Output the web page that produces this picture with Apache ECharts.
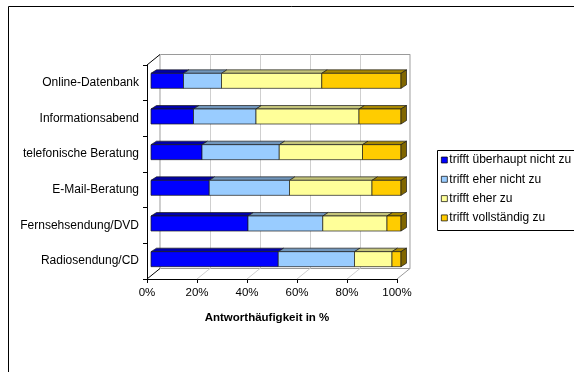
<!DOCTYPE html>
<html>
<head>
<meta charset="utf-8">
<script src="https://cdn.jsdelivr.net/npm/echarts@6/dist/echarts.min.js"></script>
<style>
  html, body { margin: 0; padding: 0; background: #fff; }
  #chart { width: 574px; height: 372px; }
</style>
</head>
<body>
<div id="chart"></div>
<script>
// Survey answers per medium, shares in percent (stacked to 100 %)
const categories = [
  'Online-Datenbank',
  'Informationsabend',
  'telefonische Beratung',
  'E-Mail-Beratung',
  'Fernsehsendung/DVD',
  'Radiosendung/CD'
];
const seriesNames = [
  'trifft überhaupt nicht zu',
  'trifft eher nicht zu',
  'trifft eher zu',
  'trifft vollständig zu'
];
const ueberhauptNicht = [13.0, 17.0, 20.4, 23.3, 38.8, 50.9];
const eherNicht       = [15.2, 25.0, 30.9, 32.1, 29.9, 30.5];
const eherZu          = [40.1, 41.2, 33.3, 33.0, 25.7, 15.0];
const vollstaendig    = [31.7, 16.8, 15.4, 11.6,  5.6,  3.6];
const xTicks = [0, 20, 40, 60, 80, 100];

const valueSets = [ueberhauptNicht, eherNicht, eherZu, vollstaendig];

// Face colours: front, top, side
const faceColors = [
  { front: '#0000FF', top: '#0000A8', side: '#00007A' },
  { front: '#99CCFF', top: '#7196BC', side: '#5A7896' },
  { front: '#FFFF99', top: '#C4C47A', side: '#99995C' },
  { front: '#FFCC00', top: '#A88800', side: '#806600' }
];

// Front plane of the pseudo-3D box and its depth offset
const FRONT = { left: 147, top: 65, width: 250, height: 214 };
const DEPTH_X = 13, DEPTH_Y = -10.5;
// Bars sit slightly behind the front plane
const BAR_SHIFT_X = 4, BAR_SHIFT_Y = -2;
const BAR_H = 15, BAR_DX = 5.5, BAR_DY = -3.5;

const FONT = 'Liberation Sans, Arial, sans-serif';

const chart = echarts.init(document.getElementById('chart'), null, { renderer: 'canvas' });

function barRenderer(seriesIdx) {
  const col = faceColors[seriesIdx];
  const isLast = seriesIdx === valueSets.length - 1;
  return function (params, api) {
    const cat = api.value(0), s = api.value(1), e = api.value(2);
    const p0 = api.coord([s, cat]);
    const p1 = api.coord([e, cat]);
    const x0 = p0[0] + BAR_SHIFT_X;
    const x1 = p1[0] + BAR_SHIFT_X;
    const yTop = p0[1] + BAR_SHIFT_Y - BAR_H / 2;
    const yBot = yTop + BAR_H;
    const stroke = { stroke: '#1a1a1a', lineWidth: 0.7 };
    const children = [
      {
        type: 'polygon',
        shape: { points: [[x0, yTop], [x1, yTop], [x1 + BAR_DX, yTop + BAR_DY], [x0 + BAR_DX, yTop + BAR_DY]] },
        style: Object.assign({ fill: col.top }, stroke)
      },
      {
        type: 'rect',
        shape: { x: x0, y: yTop, width: x1 - x0, height: BAR_H },
        style: Object.assign({ fill: col.front }, stroke)
      }
    ];
    if (isLast) {
      children.push({
        type: 'polygon',
        shape: { points: [[x1, yTop], [x1 + BAR_DX, yTop + BAR_DY], [x1 + BAR_DX, yBot + BAR_DY], [x1, yBot]] },
        style: Object.assign({ fill: col.side }, stroke)
      });
    }
    return { type: 'group', children: children };
  };
}

// Floor edges and the upper-left corner of the box
function floorRenderer(params, api) {
  const v = api.value(0);
  const p = api.coord([v, 0]);
  const cs = params.coordSys;
  const bottom = cs.y + cs.height;
  const isEdge = v === xTicks[0];
  const children = [{
    type: 'line',
    shape: { x1: p[0], y1: bottom, x2: p[0] + DEPTH_X, y2: bottom + DEPTH_Y },
    style: { stroke: isEdge ? '#000' : (v === xTicks[xTicks.length - 1] ? '#9a9a9a' : '#cfcfcf'), lineWidth: 1 }
  }];
  if (isEdge) {
    children.push({
      type: 'line',
      shape: { x1: p[0], y1: cs.y, x2: p[0] + DEPTH_X, y2: cs.y + DEPTH_Y },
      style: { stroke: '#000', lineWidth: 1 }
    });
  }
  return { type: 'group', children: children };
}

const barSeries = valueSets.map(function (vals, si) {
  const data = vals.map(function (v, ci) {
    let start = 0;
    for (let k = 0; k < si; k++) start += valueSets[k][ci];
    return [ci, start, start + v];
  });
  return {
    type: 'custom',
    name: seriesNames[si],
    xAxisIndex: 0,
    yAxisIndex: 0,
    renderItem: barRenderer(si),
    encode: { x: [1, 2], y: 0 },
    itemStyle: { color: faceColors[si].front, borderColor: '#000', borderWidth: 0.7 },
    data: data,
    z: 5
  };
});

const option = {
  backgroundColor: '#fff',
  animation: false,
  textStyle: { fontFamily: FONT, color: '#000' },
  graphic: [
    {
      type: 'rect',
      shape: { x: 8.5, y: 6.5, width: 700, height: 500 },
      style: { fill: 'none', stroke: '#000', lineWidth: 1 },
      silent: true,
      z: 0
    },
    {
      type: 'rect',
      shape: { x: 437.5, y: 150.5, width: 300, height: 80 },
      style: { fill: '#fff', stroke: '#000', lineWidth: 1 },
      silent: true,
      z: 1
    }
  ],
  legend: {
    orient: 'vertical',
    left: 441,
    top: 153.5,
    padding: 0,
    itemGap: 6.3,
    itemWidth: 6,
    itemHeight: 6,
    icon: 'rect',
    itemStyle: { borderColor: '#000', borderWidth: 0.7 },
    textStyle: { fontSize: 12, color: '#000', padding: [0, 0, 0, -3], lineHeight: 13, fontFamily: FONT },
    data: seriesNames,
    selectedMode: false,
    z: 10
  },
  grid: [
    { left: FRONT.left, top: FRONT.top, width: FRONT.width, height: FRONT.height, containLabel: false },
    {
      left: FRONT.left + DEPTH_X, top: FRONT.top + DEPTH_Y, width: FRONT.width, height: FRONT.height,
      show: true, borderColor: '#9a9a9a', borderWidth: 1, backgroundColor: 'transparent', z: 0
    }
  ],
  xAxis: [
    {
      gridIndex: 0,
      type: 'value',
      min: 0, max: 100, interval: 20,
      axisLine: { show: true, lineStyle: { color: '#000', width: 1 } },
      axisTick: { show: true, length: 4, lineStyle: { color: '#000' } },
      axisLabel: { formatter: '{value}%', fontSize: 11.5, color: '#000', margin: 8 },
      splitLine: { show: false },
      name: 'Antworthäufigkeit in %',
      nameLocation: 'middle',
      nameGap: 33,
      nameTextStyle: { fontSize: 11.5, fontWeight: 'bold', color: '#000', padding: [0, 10, 0, 0] }
    },
    {
      gridIndex: 1,
      type: 'value',
      min: 0, max: 100, interval: 20,
      axisLine: { show: false }, axisTick: { show: false }, axisLabel: { show: false },
      splitLine: { show: true, lineStyle: { color: '#cfcfcf', width: 1 } }
    }
  ],
  yAxis: [
    {
      gridIndex: 0,
      type: 'category',
      data: categories,
      inverse: true,
      axisLine: { show: true, lineStyle: { color: '#000', width: 1 } },
      axisTick: { show: true, length: 4, lineStyle: { color: '#000' } },
      axisLabel: { fontSize: 12, color: '#000', margin: 8 },
      splitLine: { show: false }
    },
    {
      gridIndex: 1,
      type: 'value',
      show: false,
      splitLine: { show: false }
    }
  ],
  series: [
    {
      type: 'custom',
      name: 'floor',
      xAxisIndex: 0,
      yAxisIndex: 0,
      renderItem: floorRenderer,
      encode: { x: 0 },
      data: xTicks.map(function (v) { return [v]; }),
      silent: true,
      z: 1
    }
  ].concat(barSeries)
};

chart.setOption(option);
</script>
</body>
</html>
